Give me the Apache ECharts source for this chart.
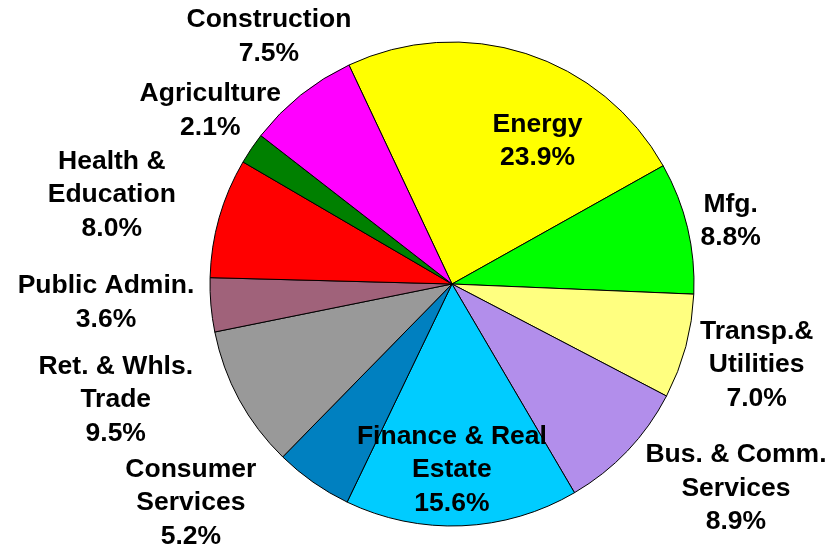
<!DOCTYPE html>
<html><head><meta charset="utf-8">
<script src="https://cdn.jsdelivr.net/npm/echarts@6/dist/echarts.min.js"></script>
<style>html,body{margin:0;padding:0;background:#fff}#chart{width:836px;height:549px}</style>
</head><body><div id="chart"></div>
<script>
const sectors = ['Energy', 'Mfg.', 'Transp.&\nUtilities', 'Bus. & Comm.\nServices', 'Finance & Real\nEstate',
  'Consumer\nServices', 'Ret. & Whls.\nTrade', 'Public Admin.', 'Health &\nEducation', 'Agriculture', 'Construction'];
const shares = [23.9, 8.8, 7.0, 8.9, 15.6, 5.2, 9.5, 3.6, 8.0, 2.1, 7.5];
const colors = ['#FFFF00', '#00FF00', '#FFFF80', '#B28EEB', '#00CCFF', '#0080C0', '#999999', '#A0627A', '#FF0000', '#008000', '#FF00FF'];

// layout (not data): pie geometry and label placement relative to each slice's middle
const CX = 452, CY = 284, R = 242;
const START_FROM_TOP = -25.2; // degrees, clockwise from 12 o'clock
const labelShift = [13.1, 0.7, -0.1, -7.8, 2.4, 15, 9.5, 1.9, -1.2, 1.6, 2.2];
const labelDist = [166.6, 285.7, 315.3, 350, 186, 340.7, 355.7, 346.5, 351.7, 297.5, 307.8];

const total = shares.reduce((a, b) => a + b, 0);
const midAngles = [];
let acc = START_FROM_TOP;
shares.forEach(v => { const a = v / total * 360; midAngles.push(acc + a / 2); acc += a; });

const chart = echarts.init(document.getElementById('chart'), null, { renderer: 'canvas' });
chart.setOption({
  backgroundColor: '#ffffff',
  animation: false,
  series: [{
    type: 'pie',
    center: [CX, CY],
    radius: R,
    startAngle: 90 - START_FROM_TOP,
    clockwise: true,
    avoidLabelOverlap: false,
    data: sectors.map((n, i) => ({ name: n, value: shares[i], itemStyle: { color: colors[i] } })),
    itemStyle: { borderColor: '#000', borderWidth: 1 },
    emphasis: { disabled: true },
    label: {
      show: true,
      position: 'outside',
      overflow: 'none',
      formatter: p => p.name + '\n' + p.value.toFixed(1) + '%',
      fontFamily: '"Liberation Sans", Arial, sans-serif',
      fontWeight: 'bold',
      fontSize: 26.5,
      lineHeight: 33.5,
      color: '#000'
    },
    labelLine: { show: false },
    labelLayout: function (params) {
      const i = params.dataIndex;
      const phi = (midAngles[i] + labelShift[i]) * Math.PI / 180;
      return {
        x: CX + labelDist[i] * Math.sin(phi),
        y: CY - labelDist[i] * Math.cos(phi),
        align: 'center',
        verticalAlign: 'middle',
        width: 400
      };
    }
  }]
});
</script>
</body></html>
